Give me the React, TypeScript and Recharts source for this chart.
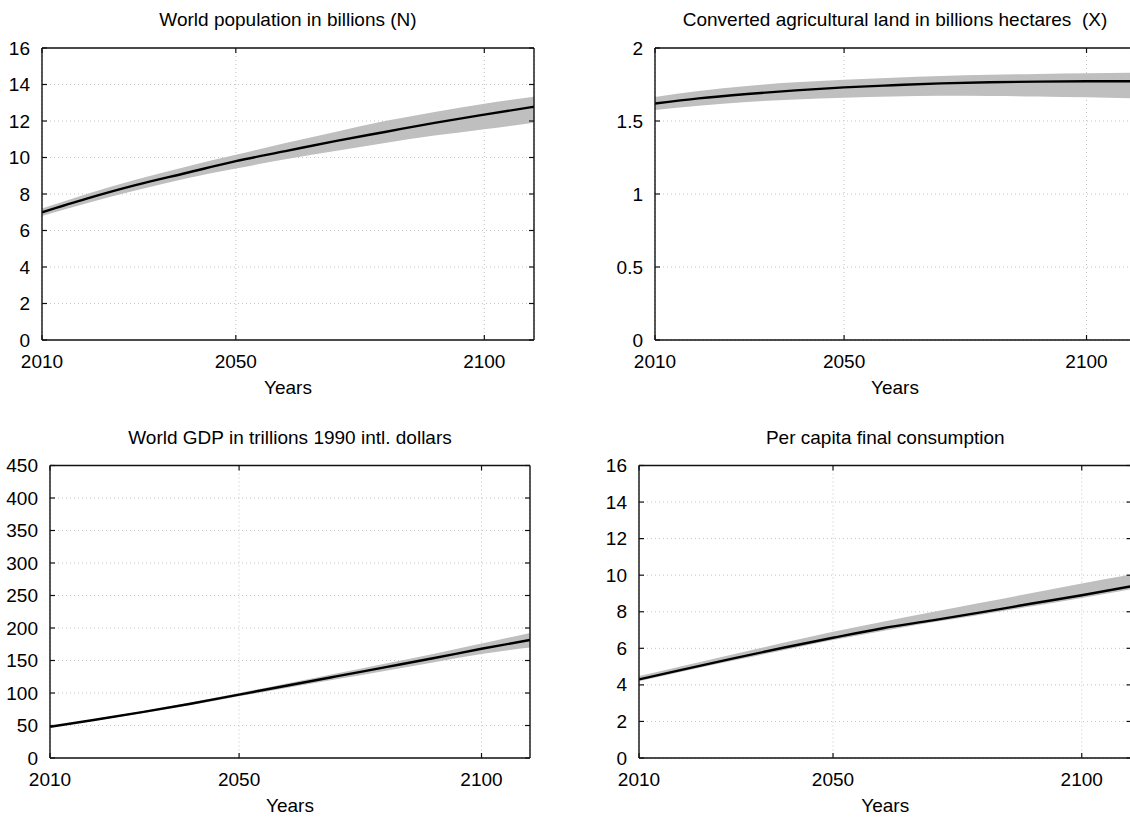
import React from 'react';
import { ComposedChart, Line, Area, XAxis, YAxis, CartesianGrid } from 'recharts';

// x positions: index 1..100 (year 2010 = 1), ticks at 1, 40, 90
const xIdx = [1, 10, 20, 30, 40, 50, 60, 70, 80, 90, 100];
const xTickValues = [1, 40, 90];
const xTickLabels = ['2010', '2050', '2100'];

const popMid = [7.0, 7.75, 8.5, 9.15, 9.8, 10.35, 10.9, 11.4, 11.9, 12.35, 12.78];
const popLow = [6.8, 7.5, 8.2, 8.85, 9.4, 9.9, 10.35, 10.8, 11.2, 11.55, 11.9];
const popHigh = [7.2, 8.0, 8.8, 9.5, 10.15, 10.8, 11.4, 12.0, 12.5, 12.95, 13.33];
const popTicks = [0, 2, 4, 6, 8, 10, 12, 14, 16];

const landMid = [1.62, 1.655, 1.685, 1.71, 1.73, 1.745, 1.758, 1.765, 1.77, 1.772, 1.772];
const landLow = [1.575, 1.605, 1.63, 1.648, 1.66, 1.668, 1.673, 1.672, 1.668, 1.662, 1.655];
const landHigh = [1.665, 1.705, 1.74, 1.765, 1.782, 1.797, 1.808, 1.816, 1.822, 1.827, 1.83];
const landTicks = [0, 0.5, 1, 1.5, 2];

const gdpMid = [48, 58.5, 70.5, 83.5, 97.5, 111.5, 125.5, 139.5, 153.5, 168, 181.5];
const gdpLow = [47, 57.3, 69, 81.5, 95, 108, 121, 134, 147, 160, 170];
const gdpHigh = [49, 59.7, 72, 85.5, 100, 115, 130, 145, 160, 176, 192.5];
const gdpTicks = [0, 50, 100, 150, 200, 250, 300, 350, 400, 450];

const consMid = [4.3, 4.85, 5.45, 6.03, 6.58, 7.1, 7.53, 7.98, 8.45, 8.9, 9.4];
const consLow = [4.2, 4.75, 5.33, 5.9, 6.45, 6.95, 7.42, 7.85, 8.3, 8.75, 9.23];
const consHigh = [4.48, 5.05, 5.68, 6.3, 6.9, 7.45, 7.98, 8.5, 9.03, 9.55, 10.04];
const consTicks = [0, 2, 4, 6, 8, 10, 12, 14, 16];

const titles = [
  'World population in billions (N)',
  'Converted agricultural land in billions hectares  (X)',
  'World GDP in trillions 1990 intl. dollars',
  'Per capita final consumption',
];
const xAxisTitle = 'Years';

const FONT = '"Liberation Sans", Arial, Helvetica, sans-serif';
const FS = 19;
const AX = '#111';
const AXS = 1; // axis box size reserved by recharts

function buildRows(mid: number[], low: number[], high: number[]) {
  return xIdx.map((i, k) => ({ i, mid: mid[k], band: [low[k], high[k]] }));
}

const BottomTick = (props: any) => {
  const { x, y, payload } = props;
  const k = xTickValues.indexOf(payload.value);
  return (
    <g>
      <line x1={x} y1={y} x2={x} y2={y - 5} stroke={AX} strokeWidth={1.2} />
      <text x={x} y={y + 21} textAnchor="middle" dominantBaseline="central" fontSize={FS} fontFamily={FONT} fill="#000">
        {xTickLabels[k]}
      </text>
    </g>
  );
};

const TopTick = (props: any) => {
  const { x, y } = props;
  return <line x1={x} y1={y} x2={x} y2={y + 5} stroke={AX} strokeWidth={1.2} />;
};

const LeftTick = (props: any) => {
  const { x, y, payload } = props;
  return (
    <g>
      <line x1={x} y1={y} x2={x + 5} y2={y} stroke={AX} strokeWidth={1.2} />
      <text x={x - 12} y={y} textAnchor="end" dominantBaseline="central" fontSize={FS} fontFamily={FONT} fill="#000">
        {String(payload.value)}
      </text>
    </g>
  );
};

const RightTick = (props: any) => {
  const { x, y } = props;
  return <line x1={x} y1={y} x2={x - 5} y2={y} stroke={AX} strokeWidth={1.2} />;
};

type PanelProps = {
  boxLeft: number; boxTop: number; boxW: number; boxH: number;
  plotL: number; plotR: number; plotT: number; plotB: number;
  rows: any[]; yTicks: number[]; title: string;
};

function Panel(p: PanelProps) {
  const margin = {
    left: p.plotL - p.boxLeft - AXS,
    right: p.boxLeft + p.boxW - p.plotR - AXS,
    top: p.plotT - p.boxTop - AXS,
    bottom: p.boxTop + p.boxH - p.plotB - AXS,
  };
  const yDomain = [p.yTicks[0], p.yTicks[p.yTicks.length - 1]];
  const cx = (p.plotL + p.plotR) / 2;
  return (
    <>
      <div style={{ position: 'absolute', left: p.boxLeft, top: p.boxTop }}>
        <ComposedChart width={p.boxW} height={p.boxH} data={p.rows} margin={margin}>
          <CartesianGrid stroke="#c4c4c4" strokeDasharray="1 3" />
          <Area xAxisId={0} yAxisId={0} type="monotone" dataKey="band" fill="#bfbfbf" fillOpacity={1} stroke="none"
            isAnimationActive={false} dot={false} activeDot={false} />
          <Line xAxisId={0} yAxisId={0} type="monotone" dataKey="mid" stroke="#000" strokeWidth={2.4}
            dot={false} activeDot={false} isAnimationActive={false} />
          <XAxis xAxisId={0} dataKey="i" type="number" domain={[1, 100]} ticks={xTickValues} interval={0}
            height={AXS} tickSize={0} tickMargin={0} tick={(t: any) => <BottomTick {...t} />}
            axisLine={{ stroke: AX, strokeWidth: 1.4 }} tickLine={false} allowDataOverflow />
          <XAxis xAxisId="t" orientation="top" dataKey="i" type="number" domain={[1, 100]} ticks={xTickValues} interval={0}
            height={AXS} tickSize={0} tickMargin={0} tick={(t: any) => <TopTick {...t} />}
            axisLine={{ stroke: AX, strokeWidth: 1.4 }} tickLine={false} allowDataOverflow />
          <YAxis yAxisId={0} type="number" domain={yDomain} ticks={p.yTicks} interval={0}
            width={AXS} tickSize={0} tickMargin={0} tick={(t: any) => <LeftTick {...t} />}
            axisLine={{ stroke: AX, strokeWidth: 1.4 }} tickLine={false} allowDataOverflow />
          <YAxis yAxisId="r" orientation="right" type="number" domain={yDomain} ticks={p.yTicks} interval={0}
            width={AXS} tickSize={0} tickMargin={0} tick={(t: any) => <RightTick {...t} />}
            axisLine={{ stroke: AX, strokeWidth: 1.4 }} tickLine={false} allowDataOverflow />
        </ComposedChart>
      </div>
      <div style={{ position: 'absolute', left: cx - 300, width: 600, top: p.plotT - 40, textAlign: 'center',
        fontSize: FS, lineHeight: '24px', whiteSpace: 'pre', color: '#000' }}>{p.title}</div>
      <div style={{ position: 'absolute', left: cx - 100, width: 200, top: p.plotB + 36, textAlign: 'center',
        fontSize: FS, lineHeight: '24px', color: '#000' }}>{xAxisTitle}</div>
    </>
  );
}

export default function App() {
  return (
    <div style={{ position: 'fixed', left: 0, top: 0, width: 1130, height: 819, overflow: 'hidden',
      background: '#fff', fontFamily: FONT }}>
      <Panel boxLeft={0} boxTop={0} boxW={565} boxH={410} plotL={42} plotR={534} plotT={48} plotB={340}
        rows={buildRows(popMid, popLow, popHigh)} yTicks={popTicks} title={titles[0]} />
      <Panel boxLeft={565} boxTop={0} boxW={600} boxH={410} plotL={655} plotR={1135} plotT={48} plotB={340}
        rows={buildRows(landMid, landLow, landHigh)} yTicks={landTicks} title={titles[1]} />
      <Panel boxLeft={0} boxTop={410} boxW={565} boxH={409} plotL={50} plotR={530} plotT={465.5} plotB={758}
        rows={buildRows(gdpMid, gdpLow, gdpHigh)} yTicks={gdpTicks} title={titles[2]} />
      <Panel boxLeft={565} boxTop={410} boxW={600} boxH={409} plotL={639} plotR={1131.5} plotT={465.5} plotB={758}
        rows={buildRows(consMid, consLow, consHigh)} yTicks={consTicks} title={titles[3]} />
    </div>
  );
}
